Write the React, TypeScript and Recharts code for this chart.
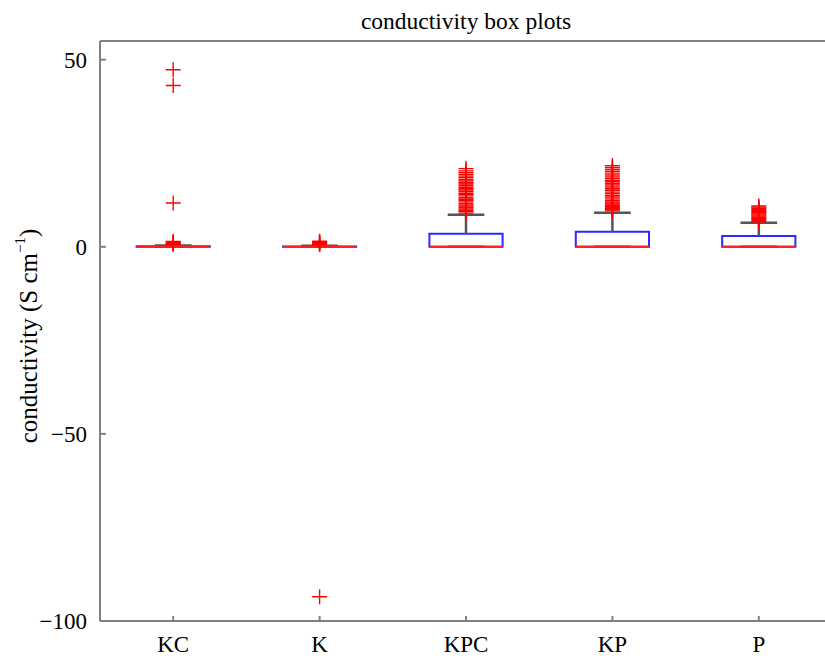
import { ComposedChart, XAxis, YAxis, Scatter, ReferenceArea, ReferenceLine, Label } from 'recharts'

// box plot summary per group (position on the x axis = index + 1)
const groups = ['KC', 'K', 'KPC', 'KP', 'P']
const q1 = [0, 0, 0, 0, 0]
const medians = [0, 0, 0, 0, 0]
const q3 = [0.15, 0.1, 3.5, 4.0, 2.9]
const whiskerLow = [0, 0, 0, 0, 0]
const whiskerHigh = [0.35, 0.3, 8.6, 9.1, 6.4]

// outliers per group
const outKC = [47.3, 43.1, 11.7, 1.4, 1.2, 1.0, 0.8, 0.6]
const outK = [1.5, 1.2, 1.0, 0.8, 0.6, -93.5]
const outKPC = [9.0, 9.4, 9.7, 10.1, 10.5, 10.9, 11.2, 11.6, 12.0, 12.4, 12.7, 13.1, 13.6, 14.0, 14.3, 14.8, 15.2, 15.5, 15.9, 16.4, 16.8, 17.1, 17.6, 18.0, 18.5, 18.9, 19.3, 19.8, 20.3, 20.9]
const outKP = [9.6, 9.9, 10.2, 10.5, 10.8, 11.1, 11.4, 11.7, 12.0, 12.4, 12.8, 13.3, 13.7, 14.2, 14.6, 15.1, 15.5, 16.0, 16.5, 16.9, 17.4, 17.8, 18.3, 18.7, 19.2, 19.7, 20.2, 20.7, 21.2, 21.7]
const outP = [6.7, 7.0, 7.3, 7.6, 7.9, 8.2, 8.5, 8.8, 9.1, 9.4, 9.7, 10.0, 10.3, 10.6, 10.9]

const yTicks = [-100, -50, 0, 50]
const yDomain = [-100, 55]

const outliers = [outKC, outK, outKPC, outKP, outP].flatMap((vals, i) => vals.map(v => ({ x: i + 1, y: v })))

const serif = '"Liberation Serif", "Times New Roman", serif'
const axisGray = '#808080'

const Plus = (p: any) => (
  <path d={`M${p.cx - 7.5},${p.cy}h15M${p.cx},${p.cy - 7.5}v15`} stroke="#ff0000" strokeWidth={1.4} fill="none" />
)

export default function App() {
  return (
    <div style={{ position: 'absolute', left: 0, top: 0, width: 825, height: 658, overflow: 'hidden', background: '#fff' }}>
      <div style={{ position: 'absolute', left: 100, width: 732, top: 7, textAlign: 'center', fontFamily: serif, fontSize: 23.5, lineHeight: '28px', color: '#000' }}>
        conductivity box plots
      </div>
      <ComposedChart width={840} height={658} margin={{ top: 40, right: 8, bottom: 0, left: 0 }}>
        <XAxis xAxisId="b" type="number" dataKey="x" domain={[0.5, 5.5]} ticks={[1, 2, 3, 4, 5]}
          tickFormatter={(v: number) => groups[v - 1] ?? ''} height={37}
          tickSize={-5} tickMargin={20} stroke={axisGray} strokeWidth={2}
          tick={{ fill: '#000', fontSize: 23, fontFamily: serif }} allowDataOverflow />
        <XAxis xAxisId="t" orientation="top" type="number" domain={[0.5, 5.5]} ticks={[1, 2, 3, 4, 5]}
          tickFormatter={() => ''} height={1} tickSize={-5} stroke={axisGray} strokeWidth={2} allowDataOverflow />
        <YAxis type="number" domain={yDomain} ticks={yTicks} width={100} allowDataOverflow
          tickFormatter={(v: number) => String(v).replace('-', '\u2212')}
          tickSize={-6} tickMargin={19} stroke={axisGray} strokeWidth={2}
          tick={{ fill: '#000', fontSize: 23, fontFamily: serif }}>
          <Label content={() => (
            <text transform="translate(31,336) rotate(-90)" textAnchor="middle" dominantBaseline="middle"
              fontFamily={serif} fontSize={25} fill="#000">
              conductivity (S cm<tspan dy={-9} fontSize={15}>{'\u2212'}1</tspan><tspan dy={9}>)</tspan>
            </text>
          )} />
        </YAxis>
        <ReferenceLine xAxisId="b" y={55} stroke={axisGray} strokeWidth={2} />
        {groups.map((g, i) => (
          <ReferenceLine key={`w${g}`} xAxisId="b" stroke="#555" strokeWidth={2.5}
            segment={[{ x: i + 1, y: q3[i] }, { x: i + 1, y: whiskerHigh[i] }]} />
        ))}
        {groups.map((g, i) => (
          <ReferenceLine key={`c${g}`} xAxisId="b" stroke="#555" strokeWidth={2.5}
            segment={[{ x: i + 0.875, y: whiskerHigh[i] }, { x: i + 1.125, y: whiskerHigh[i] }]} />
        ))}
        {groups.map((g, i) => (
          <ReferenceLine key={`l${g}`} xAxisId="b" stroke="#555" strokeWidth={2.5}
            segment={[{ x: i + 0.875, y: whiskerLow[i] }, { x: i + 1.125, y: whiskerLow[i] }]} />
        ))}
        {groups.map((g, i) => (
          <ReferenceArea key={`b${g}`} xAxisId="b" x1={i + 0.75} x2={i + 1.25} y1={q1[i]} y2={q3[i]}
            stroke="#2a2aff" strokeWidth={2} fill="none" fillOpacity={0} />
        ))}
        {groups.map((g, i) => (
          <ReferenceLine key={`m${g}`} xAxisId="b" stroke="#ff2020" strokeWidth={2}
            segment={[{ x: i + 0.75, y: medians[i] }, { x: i + 1.25, y: medians[i] }]} />
        ))}
        <Scatter xAxisId="b" data={outliers} dataKey="y" shape={Plus} isAnimationActive={false} />
      </ComposedChart>
    </div>
  )
}
